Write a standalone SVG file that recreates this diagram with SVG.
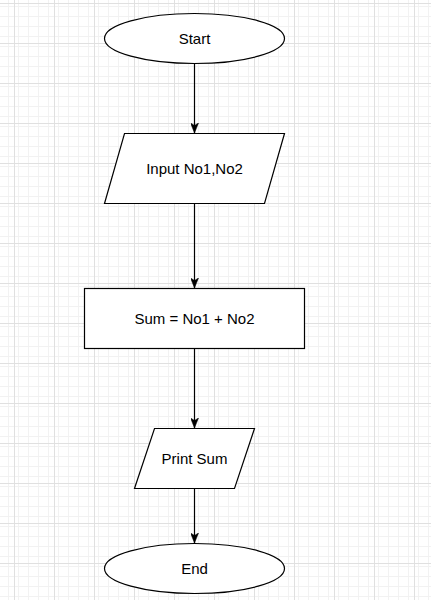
<svg xmlns="http://www.w3.org/2000/svg" width="431" height="600" viewBox="0 0 431 600">
  <style>
    .shape { fill: #ffffff; stroke: #000000; stroke-width: 1.2; }
    .lbl { font-family: "Liberation Sans", Arial, sans-serif; font-size: 15px; fill: #000000; text-anchor: middle; }
    .conn { stroke: #000000; stroke-width: 1.2; fill: none; marker-end: url(#arrow); }
  </style>
  <defs>
    <pattern id="minor" width="10" height="10" patternUnits="userSpaceOnUse" x="14" y="3">
      <path d="M0.5,0 V10 M0,0.5 H10" stroke="#f2f2f2" stroke-width="1" fill="none"/>
    </pattern>
    <pattern id="major" width="40" height="40" patternUnits="userSpaceOnUse" x="14" y="3">
      <rect width="40" height="40" fill="url(#minor)"/>
      <path d="M0.5,0 V40 M0,0.5 H40" stroke="#e0e0e0" stroke-width="1" fill="none"/>
    </pattern>
    <marker id="arrow" markerUnits="userSpaceOnUse" viewBox="0 0 10 8" refX="10" refY="4" markerWidth="10" markerHeight="8" orient="auto">
      <path d="M0,0 L10,4 L0,8 L2.5,4 Z" fill="#000000" stroke="#000000" stroke-width="0.5"/>
    </marker>
  </defs>
  <rect x="0" y="0" width="431" height="600" fill="#ffffff"/>
  <rect x="0" y="0" width="431" height="600" fill="url(#major)"/>

  <g id="connectors">
    <path class="conn" d="M194.5,63.5 V133"/>
    <path class="conn" d="M194.5,203.5 V288"/>
    <path class="conn" d="M194.5,348.5 V428"/>
    <path class="conn" d="M194.5,488.5 V543"/>
  </g>

  <g id="start">
    <ellipse class="shape" cx="194.5" cy="38.5" rx="90" ry="25"/>
    <text class="lbl" x="194.5" y="44">Start</text>
  </g>
  <g id="input">
    <polygon class="shape" points="124.5,133.5 284.5,133.5 264.5,203.5 104.5,203.5"/>
    <text class="lbl" x="194.5" y="174">Input No1,No2</text>
  </g>
  <g id="process">
    <rect class="shape" x="84.5" y="288.5" width="220" height="60"/>
    <text class="lbl" x="194.5" y="324">Sum = No1 + No2</text>
  </g>
  <g id="output">
    <polygon class="shape" points="154.5,428.5 254.5,428.5 234.5,488.5 134.5,488.5"/>
    <text class="lbl" x="194.5" y="464">Print Sum</text>
  </g>
  <g id="end">
    <ellipse class="shape" cx="194.5" cy="568.5" rx="90" ry="25"/>
    <text class="lbl" x="194.5" y="574">End</text>
  </g>
</svg>
